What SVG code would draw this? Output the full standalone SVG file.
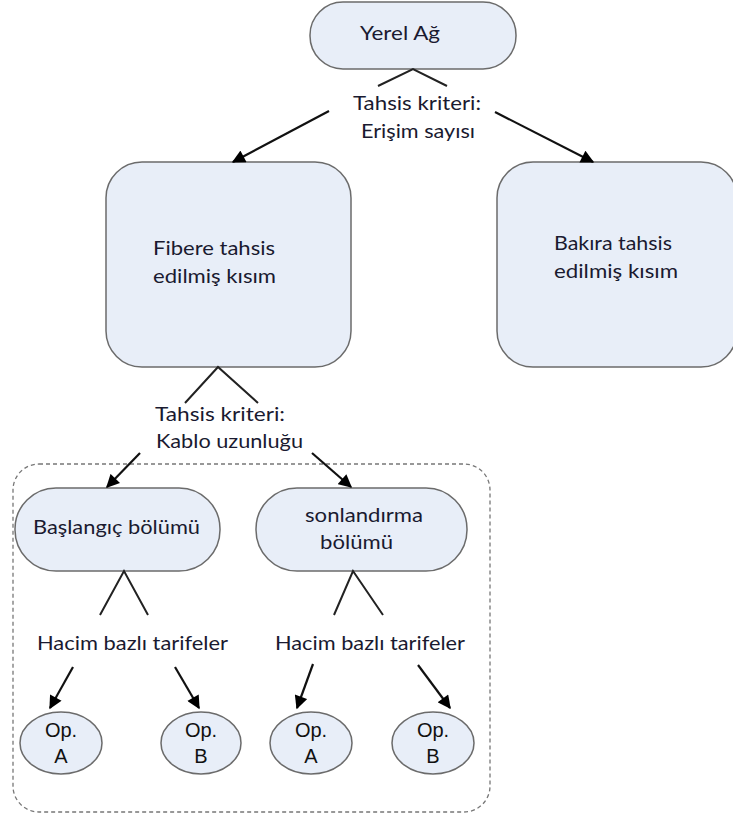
<svg xmlns="http://www.w3.org/2000/svg" width="733" height="822" viewBox="0 0 733 822">
<defs>
<marker id="ah" viewBox="0 0 10 10" refX="9" refY="5" markerWidth="6.5" markerHeight="6" markerUnits="strokeWidth" orient="auto">
<path d="M0,0 L10,5 L0,10 z" fill="#000"/>
</marker>
<style>
.box{fill:#e8eef8;stroke:#6b6b6b;stroke-width:1.5}
.t{font-family:Lato,"Open Sans",sans-serif;font-size:19px;fill:#1a1a30}
.op{font-family:"Liberation Sans",Arial,sans-serif;font-size:20px;fill:#111;text-anchor:middle}
.ln{stroke:#222;stroke-width:2;fill:none}
.ar{stroke:#111;stroke-width:2.2;fill:none;marker-end:url(#ah)}
.dash{fill:none;stroke:#777;stroke-width:1.3;stroke-dasharray:4 3}
</style>
</defs>
<rect width="733" height="822" fill="#fff"/>
<rect class="dash" x="13" y="464" width="477" height="348" rx="26"/>
<g id="yerel">
<rect class="box" x="310" y="2" width="206" height="67" rx="33"/>
<text class="t" x="360" y="40" textLength="80" lengthAdjust="spacingAndGlyphs">Yerel Ağ</text>
</g>
<g id="fiber">
<rect class="box" x="106" y="162" width="245" height="205" rx="36"/>
<text class="t" x="153" y="255" textLength="122" lengthAdjust="spacingAndGlyphs">Fibere tahsis</text>
<text class="t" x="153" y="283" textLength="123" lengthAdjust="spacingAndGlyphs">edilmiş kısım</text>
</g>
<g id="bakir">
<rect class="box" x="497" y="162" width="240" height="205" rx="36"/>
<text class="t" x="554" y="250" textLength="118" lengthAdjust="spacingAndGlyphs">Bakıra tahsis</text>
<text class="t" x="554" y="278" textLength="124" lengthAdjust="spacingAndGlyphs">edilmiş kısım</text>
</g>
<g id="baslangic">
<rect class="box" x="15" y="488" width="205" height="83" rx="41"/>
<text class="t" x="33" y="534" textLength="167" lengthAdjust="spacingAndGlyphs">Başlangıç bölümü</text>
</g>
<g id="sonlandirma">
<rect class="box" x="256" y="488" width="211" height="83" rx="41"/>
<text class="t" x="305" y="522" textLength="118" lengthAdjust="spacingAndGlyphs">sonlandırma</text>
<text class="t" x="320" y="549" textLength="73" lengthAdjust="spacingAndGlyphs">bölümü</text>
</g>
<g id="opA1"><ellipse class="box" cx="61" cy="743" rx="41" ry="31"/><text class="op" x="61" y="737">Op.</text><text class="op" x="61" y="763">A</text></g>
<g id="opB1"><ellipse class="box" cx="201" cy="743" rx="40" ry="31"/><text class="op" x="201" y="737">Op.</text><text class="op" x="201" y="763">B</text></g>
<g id="opA2"><ellipse class="box" cx="311" cy="743" rx="41" ry="31"/><text class="op" x="311" y="737">Op.</text><text class="op" x="311" y="763">A</text></g>
<g id="opB2"><ellipse class="box" cx="433" cy="743" rx="41" ry="31"/><text class="op" x="433" y="737">Op.</text><text class="op" x="433" y="763">B</text></g>
<g id="labels">
<text class="t" x="353" y="110" textLength="128" lengthAdjust="spacingAndGlyphs">Tahsis kriteri:</text>
<text class="t" x="361" y="138" textLength="114" lengthAdjust="spacingAndGlyphs">Erişim sayısı</text>
<text class="t" x="155" y="421" textLength="130" lengthAdjust="spacingAndGlyphs">Tahsis kriteri:</text>
<text class="t" x="156" y="448" textLength="147" lengthAdjust="spacingAndGlyphs">Kablo uzunluğu</text>
<text class="t" x="37" y="650" textLength="191" lengthAdjust="spacingAndGlyphs">Hacim bazlı tarifeler</text>
<text class="t" x="275" y="650" textLength="190" lengthAdjust="spacingAndGlyphs">Hacim bazlı tarifeler</text>
</g>
<g id="connectors">
<path class="ln" d="M378,86 L413,69 L447,86"/>
<path class="ar" d="M329,111 L233,162"/>
<path class="ar" d="M495,112 L593,162"/>
<path class="ln" d="M185,403 L218,367 L258,403"/>
<path class="ar" d="M140,453 L107,487"/>
<path class="ar" d="M312,453 L351,487"/>
<path class="ln" d="M100,615 L124,571 L148,615"/>
<path class="ln" d="M334,615 L353,571 L383,615"/>
<path class="ar" d="M73,667 L50,708"/>
<path class="ar" d="M175,667 L199,708"/>
<path class="ar" d="M313,664 L297,708"/>
<path class="ar" d="M418,665 L450,708"/>
</g>
</svg>
